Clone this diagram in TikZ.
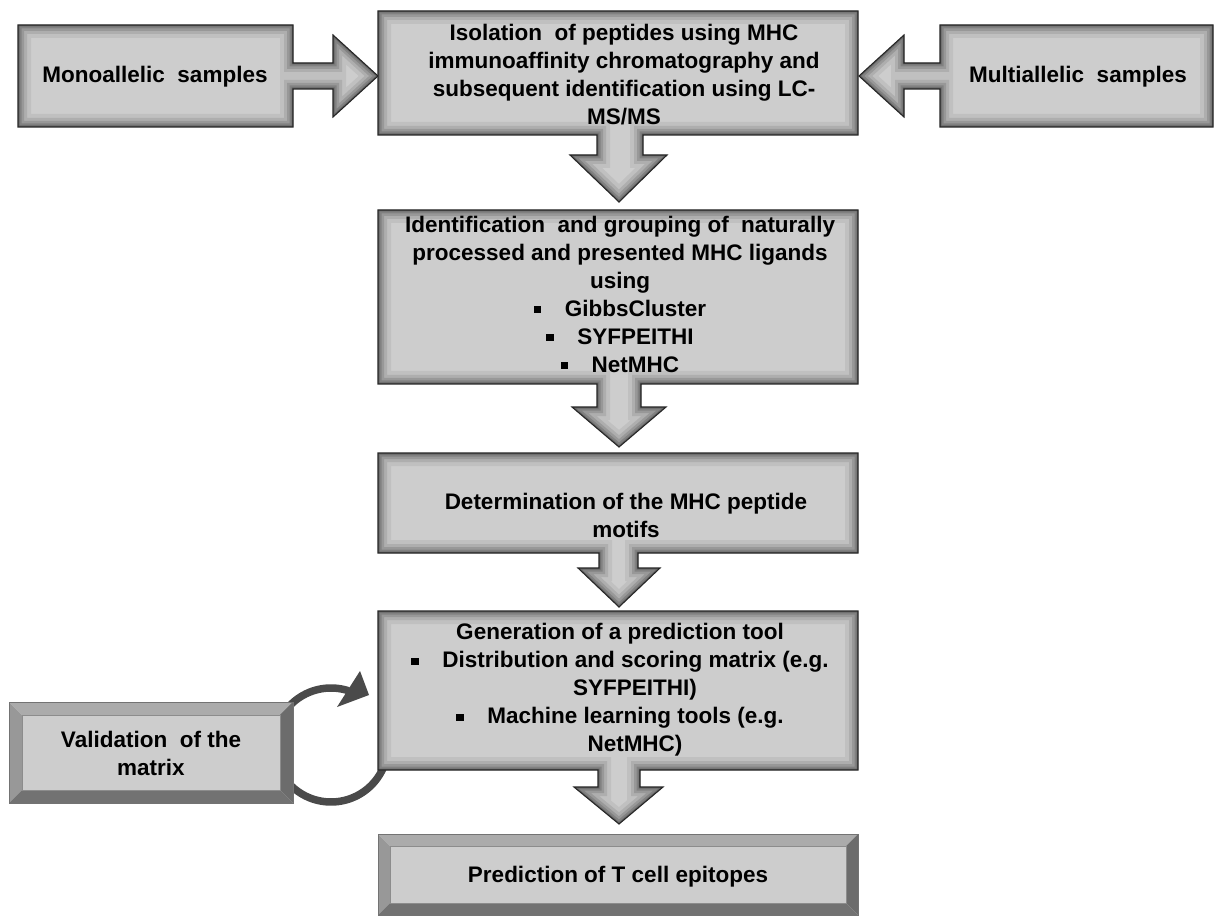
\documentclass[tikz,border=0pt]{standalone}
\usepackage{fontspec}
\setmainfont{Liberation Sans}
\definecolor{boxfill}{HTML}{CDCDCD}
\definecolor{bevtop}{HTML}{ABABAB}
\definecolor{bevleft}{HTML}{989898}
\definecolor{bevbot}{HTML}{727272}
\definecolor{bevright}{HTML}{6C6C6C}
\definecolor{loopcol}{HTML}{4A4A4A}
\newcommand\sqbul{\raisebox{0.25ex}{\rule{0.32em}{0.32em}}\hspace{1.05em}}
\newcommand\glowshape[1]{%
  \fill[boxfill] #1;
  \begin{scope}
    \clip #1;
    \foreach \w/\o in {26/0.06,18/0.09,12/0.12,7/0.15,3/0.2}
      \draw[line width=\w pt, black, opacity=\o, line join=miter] #1;
  \end{scope}
  \draw[black!85, line width=1.1pt, line join=miter] #1;
}
\newcommand\bevelbox[5]{%
  \fill[bevtop] (#1,#2) -- (#3,#2) -- ({#3-#5},{#2+#5}) -- ({#1+#5},{#2+#5}) -- cycle;
  \fill[bevleft] (#1,#2) -- ({#1+#5},{#2+#5}) -- ({#1+#5},{#4-#5}) -- (#1,#4) -- cycle;
  \fill[bevbot] (#1,#4) -- ({#1+#5},{#4-#5}) -- ({#3-#5},{#4-#5}) -- (#3,#4) -- cycle;
  \fill[bevright] (#3,#2) -- (#3,#4) -- ({#3-#5},{#4-#5}) -- ({#3-#5},{#2+#5}) -- cycle;
  \fill[boxfill] ({#1+#5},{#2+#5}) rectangle ({#3-#5},{#4-#5});
  \draw[black!45, line width=0.6pt] ({#1+#5},{#2+#5}) rectangle ({#3-#5},{#4-#5});
  \draw[black!55, line width=0.8pt] (#1,#2) rectangle (#3,#4);
}
\tikzset{lbl/.style={font=\fontsize{22.5}{28}\selectfont\bfseries, align=center, text=black, inner sep=0pt}}
\begin{document}
\begin{tikzpicture}[x=1pt,y=-1pt]
\useasboundingbox (0,0) rectangle (1216,917);
\fill[white] (0,0) rectangle (1216,917);

% looping arrow (drawn first, partly hidden by the boxes)
\coordinate (loopc) at (331,745);
\draw[loopcol, line width=7.5pt] plot[domain=22:288, samples=80, smooth] ({331+57*cos(\x)},{745+57*sin(\x)});
\fill[loopcol] (369,695) -- (360,671) -- (337,707) -- cycle;

% shapes with arrows
\glowshape{(18,25) -- (293,25) -- (293,63) -- (333,63) -- (333,35) -- (378,76) -- (333,117) -- (333,89) -- (293,89) -- (293,127) -- (18,127) -- cycle}
\glowshape{(1213,25) -- (940,25) -- (940,63) -- (904,63) -- (904,35) -- (859,76) -- (904,117) -- (904,89) -- (940,89) -- (940,127) -- (1213,127) -- cycle}
\glowshape{(378,11) -- (858,11) -- (858,135) -- (643,135) -- (643,155) -- (667,155) -- (619,202) -- (570,155) -- (597,155) -- (597,135) -- (378,135) -- cycle}
\glowshape{(378,210) -- (858,210) -- (858,384) -- (641,384) -- (641,407) -- (666,407) -- (619,447) -- (572,407) -- (597,407) -- (597,384) -- (378,384) -- cycle}
\glowshape{(378,453) -- (858,453) -- (858,553) -- (638,553) -- (638,568) -- (660,568) -- (619,607) -- (578,568) -- (599,568) -- (599,553) -- (378,553) -- cycle}
\glowshape{(378,611) -- (858,611) -- (858,770) -- (640,770) -- (640,787) -- (663,787) -- (619,824) -- (574,787) -- (598,787) -- (598,770) -- (378,770) -- cycle}

% bevelled boxes
\bevelbox{9}{702}{293}{803}{13}
\bevelbox{378}{834}{858}{915}{12}

% texts
\node[lbl] (mono) at (155,77) {Monoallelic\ \ samples};
\node[lbl] (multi) at (1078,77) {Multiallelic\ \ samples};
\node[lbl] (iso) at (624,75) {Isolation\ \ of peptides using MHC\\immunoaffinity chromatography and\\subsequent identification using LC-\\MS/MS};
\node[lbl] (ident) at (620,294) {Identification\ \ and grouping of\ \ naturally\\processed and presented MHC ligands\\using\\\sqbul GibbsCluster\\\sqbul SYFPEITHI\\\sqbul NetMHC};
\node[lbl] (motif) at (626,515) {Determination of the MHC peptide\\motifs};
\node[lbl] (gen) at (620,690) {Generation of a prediction tool\\\sqbul Distribution and scoring matrix (e.g.\\\hspace*{30pt}SYFPEITHI)\\\sqbul Machine learning tools (e.g.\\\hspace*{30pt}NetMHC)};
\node[lbl] (valid) at (151,753) {Validation\ \ of the\\matrix};
\node[lbl] (pred) at (618,877) {Prediction of T cell epitopes};
\end{tikzpicture}
\end{document}
